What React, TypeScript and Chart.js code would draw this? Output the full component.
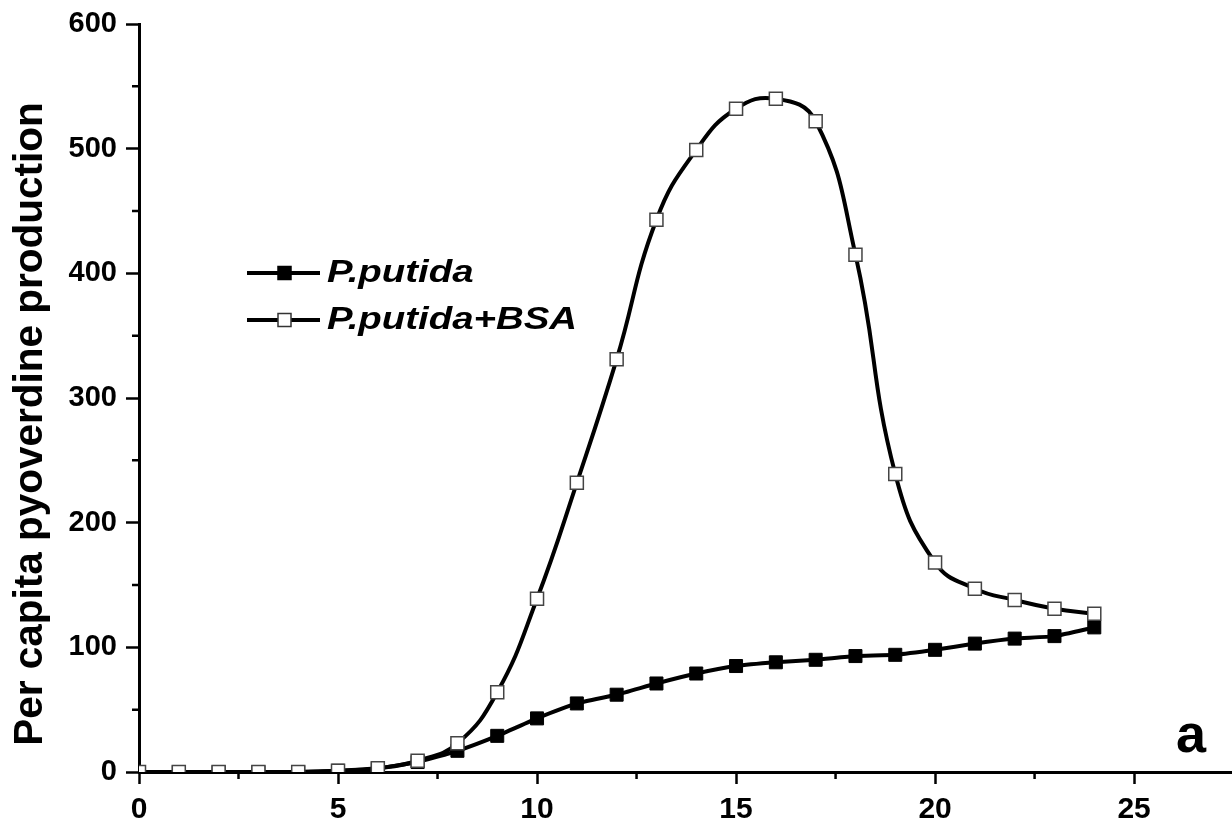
import React, { useEffect, useRef } from "react";
import { Chart, registerables } from "chart.js";

Chart.register(...registerables);

const hours = [0, 1, 2, 3, 4, 5, 6, 7, 8, 9, 10, 11, 12, 13, 14, 15, 16, 17, 18, 19, 20, 21, 22, 23, 24];
const putida = [0, 0, 0, 0, 0, 1, 3, 8, 17, 29, 43, 55, 62, 71, 79, 85, 88, 90, 93, 94, 98, 103, 107, 109, 116];
const putidaBSA = [0, 0, 0, 0, 0, 1, 3, 9, 23, 64, 139, 232, 331, 443, 499, 532, 540, 522, 415, 239, 168, 147, 138, 131, 127];
const seriesNames = ["P.putida", "P.putida+BSA"];
const yTitle = "Per capita pyoverdine production";
const panelLabel = "a";
const xMinorTicks = [2.5, 7.5, 12.5, 17.5, 22.5];
const yMinorTicks = [50, 150, 250, 350, 450, 550];

const FONT = "'Liberation Sans', Arial, sans-serif";

const overlayPlugin = {
  id: "overlay",
  afterDraw(chart: any) {
    const ctx = chart.ctx;
    const xs = chart.scales.x;
    const ys = chart.scales.y;
    ctx.save();
    // minor ticks
    ctx.strokeStyle = "#000";
    ctx.lineWidth = 2.5;
    ctx.beginPath();
    for (const v of yMinorTicks) {
      const py = ys.getPixelForValue(v);
      ctx.moveTo(chart.chartArea.left - 7, py);
      ctx.lineTo(chart.chartArea.left, py);
    }
    for (const v of xMinorTicks) {
      const px = xs.getPixelForValue(v);
      ctx.moveTo(px, chart.chartArea.bottom);
      ctx.lineTo(px, chart.chartArea.bottom + 7);
    }
    ctx.stroke();

    // y title
    ctx.save();
    ctx.translate(31, 424);
    ctx.rotate(-Math.PI / 2);
    ctx.font = `bold 40.5px ${FONT}`;
    ctx.fillStyle = "#000";
    ctx.textAlign = "center";
    ctx.textBaseline = "middle";
    ctx.fillText(yTitle, 0, 0);
    ctx.restore();

    // legend
    const rows = [
      { y: 273, fill: "#000", stroke: "#000" },
      { y: 320, fill: "#fff", stroke: "#333" },
    ];
    rows.forEach((r, i) => {
      ctx.strokeStyle = "#000";
      ctx.lineWidth = 4;
      ctx.beginPath();
      ctx.moveTo(247, r.y);
      ctx.lineTo(320, r.y);
      ctx.stroke();
      ctx.fillStyle = r.fill;
      ctx.fillRect(278, r.y - 6.5, 13, 13);
      ctx.strokeStyle = r.stroke;
      ctx.lineWidth = 1.5;
      ctx.strokeRect(278, r.y - 6.5, 13, 13);
      ctx.save();
      ctx.translate(327, r.y);
      ctx.scale(1.2, 1);
      ctx.font = `italic bold 32px ${FONT}`;
      ctx.fillStyle = "#000";
      ctx.textAlign = "left";
      ctx.textBaseline = "middle";
      ctx.fillText(seriesNames[i], 0, 0);
      ctx.restore();
    });

    // panel label
    ctx.font = `bold 54px ${FONT}`;
    ctx.fillStyle = "#000";
    ctx.textAlign = "center";
    ctx.textBaseline = "alphabetic";
    ctx.fillText(panelLabel, 1191, 752);
    ctx.restore();
  },
};

export default function App() {
  const ref = useRef<HTMLCanvasElement>(null);
  useEffect(() => {
    if (!ref.current) return;
    const chart = new Chart(ref.current, {
      type: "line",
      data: {
        labels: hours,
        datasets: [
          {
            label: seriesNames[0],
            data: hours.map((h, i) => ({ x: h, y: putida[i] })),
            borderColor: "#000",
            borderWidth: 4,
            tension: 0.15,
            pointStyle: "rect",
            pointRadius: 9.2,
            pointBackgroundColor: "#000",
            pointBorderColor: "#000",
            pointBorderWidth: 1,
            order: 1,
          },
          {
            label: seriesNames[1],
            data: hours.map((h, i) => ({ x: h, y: putidaBSA[i] })),
            borderColor: "#000",
            borderWidth: 4,
            tension: 0.45,
            pointStyle: "rect",
            pointRadius: 9.2,
            pointBackgroundColor: "#fff",
            pointBorderColor: "#444",
            pointBorderWidth: 1.5,
            order: 0,
          },
        ],
      },
      options: {
        responsive: false,
        animation: false,
        devicePixelRatio: 1,
        layout: { autoPadding: false, padding: { top: 24, right: 0, left: 0, bottom: 0 } },
        plugins: { legend: { display: false }, tooltip: { enabled: false } },
        scales: {
          x: {
            type: "linear",
            min: 0,
            max: 27.46,
            afterFit: (s: any) => {
              s.height = 56;
              s.paddingRight = 0;
              s.paddingLeft = 0;
            },
            grid: {
              drawOnChartArea: false,
              drawTicks: true,
              tickLength: 12,
              tickWidth: 2.5,
              tickColor: "#000",
            },
            border: { display: true, color: "#000", width: 3 },
            ticks: {
              stepSize: 5,
              includeBounds: false,
              color: "#000",
              padding: 8,
              maxRotation: 0,
              font: { family: FONT, size: 30, weight: "bold" },
            },
          },
          y: {
            min: 0,
            max: 600,
            afterFit: (s: any) => {
              s.width = 139;
              s.paddingTop = 0;
              s.paddingBottom = 0;
            },
            grid: {
              drawOnChartArea: false,
              drawTicks: true,
              tickLength: 13,
              tickWidth: 2.5,
              tickColor: "#000",
            },
            border: { display: true, color: "#000", width: 3 },
            ticks: {
              stepSize: 100,
              color: "#000",
              padding: 9,
              font: { family: FONT, size: 29, weight: "bold" },
            },
          },
        },
      },
      plugins: [overlayPlugin],
    });
    return () => chart.destroy();
  }, []);
  return (
    <div style={{ position: "absolute", left: 0, top: 0, width: 1232, height: 828, background: "#fff" }}>
      <canvas ref={ref} width={1232} height={828} style={{ width: 1232, height: 828, display: "block" }} />
    </div>
  );
}
